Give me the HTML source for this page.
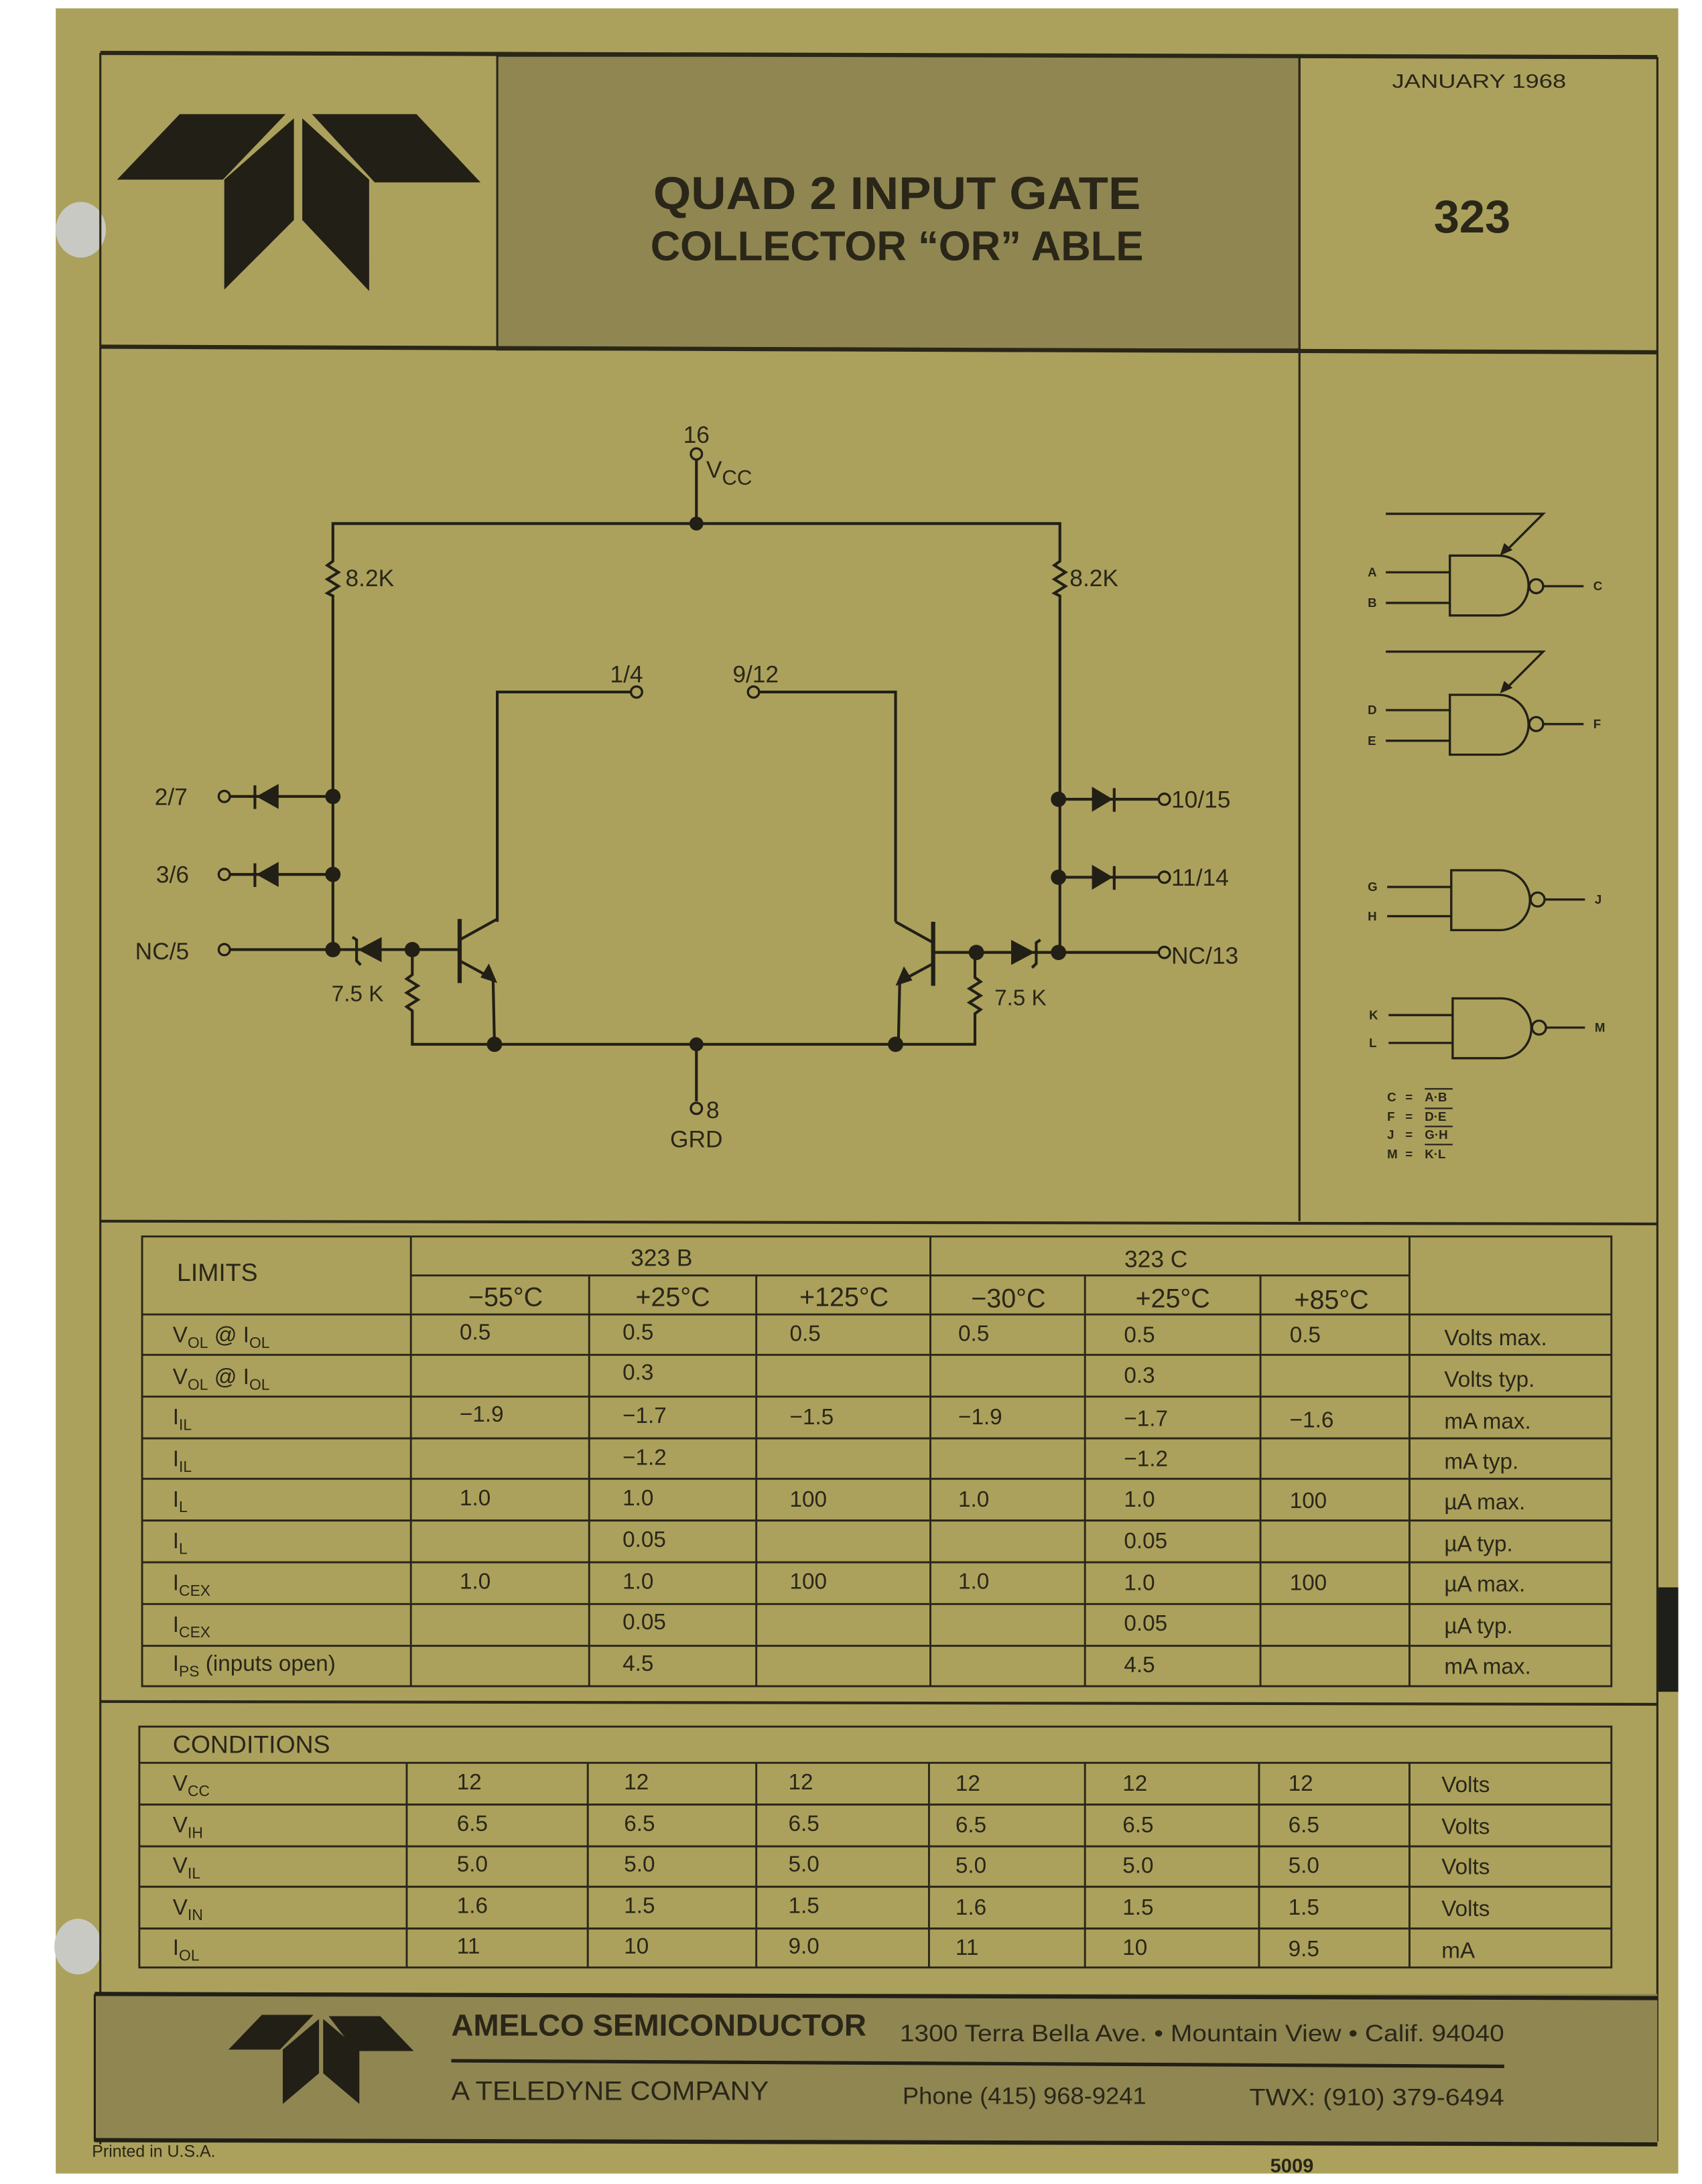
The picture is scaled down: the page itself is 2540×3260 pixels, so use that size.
<!DOCTYPE html>
<html><head><meta charset="utf-8"><style>
html,body{margin:0;padding:0;background:#fff;}
svg{display:block;}
text{font-family:"Liberation Sans",sans-serif;fill:#2a2618;}
</style></head><body>
<svg width="2540" height="3260" viewBox="0 0 1222 1568.5" xmlns="http://www.w3.org/2000/svg">
<rect x="0" y="0" width="1222" height="1569" fill="#ffffff"/>
<rect x="40" y="6" width="1165" height="1555" fill="#aba15c"/>
<!-- holes -->
<ellipse cx="58" cy="165" rx="18" ry="20" fill="#c9c9c4"/>
<ellipse cx="56" cy="1398" rx="17" ry="20" fill="#c9c9c4"/>
<rect x="1190" y="1140" width="15" height="75" fill="#1e1e1a"/>

<g stroke="#2a2618" fill="none">
<!-- header frame -->
<rect x="357" y="40" width="576" height="211" fill="#8f8652" stroke-width="1.5"/>
<line x1="72" y1="38" x2="1190" y2="41" stroke-width="3"/>
<line x1="72" y1="249" x2="1190" y2="253" stroke-width="3"/>
<line x1="72" y1="38" x2="72" y2="1540" stroke-width="1.5"/>
<line x1="1190" y1="41" x2="1190" y2="1538" stroke-width="1.5"/>
<line x1="933" y1="40" x2="933" y2="877" stroke-width="1.5"/>
<line x1="72" y1="877" x2="1190" y2="879" stroke-width="2"/>
<line x1="72" y1="1222" x2="1190" y2="1224" stroke-width="2"/>
</g>
<!-- logo -->
<g fill="#221f16">
<polygon points="84,129 129,82 205,82 160,129"/>
<polygon points="224,82 299,82 345,131 269,131"/>
<polygon points="211,85 211,158 161,208 161,129"/>
<polygon points="217,85 265,129 265,209 217,158"/>
</g>
<text x="644" y="150" font-size="33" font-weight="bold" text-anchor="middle" textLength="350" lengthAdjust="spacingAndGlyphs">QUAD 2 INPUT GATE</text>
<text x="644" y="187" font-size="30" font-weight="bold" text-anchor="middle" textLength="354" lengthAdjust="spacingAndGlyphs">COLLECTOR “OR” ABLE</text>
<text x="1062" y="63" font-size="14" text-anchor="middle" textLength="125" lengthAdjust="spacingAndGlyphs">JANUARY  1968</text>
<text x="1057" y="167" font-size="33" font-weight="bold" text-anchor="middle">323</text>

<!-- schematic -->
<g stroke="#221f16" stroke-width="2" fill="none">
<polyline points="239,682 239,430"/>
<polyline points="239,400 239,376 761,376 761,400"/>
<polyline points="761,430 761,682"/>
<polyline points="239,400 239,403 235,406 243,411 235,416 243,421 235,426 239,428 239,430"/>
<polyline points="761,400 761,403 757,406 765,411 757,416 765,421 757,426 761,428 761,430"/>
<line x1="500" y1="330" x2="500" y2="376"/>
<circle cx="500" cy="326" r="4" stroke-width="1.6"/>
<!-- 1/4 and 9/12 -->
<polyline points="453,497 357,497 357,662"/>
<circle cx="457" cy="497" r="4" stroke-width="1.6"/>
<polyline points="545,497 643,497 643,662"/>
<circle cx="541" cy="497" r="4" stroke-width="1.6"/>
<!-- left diodes -->
<line x1="165" y1="572" x2="239" y2="572"/><circle cx="161" cy="572" r="4" stroke-width="1.6"/>
<line x1="165" y1="628" x2="239" y2="628"/><circle cx="161" cy="628" r="4" stroke-width="1.6"/>
<line x1="165" y1="682" x2="329" y2="682"/><circle cx="161" cy="682" r="4" stroke-width="1.6"/>
<line x1="183" y1="564" x2="183" y2="581"/>
<line x1="183" y1="620" x2="183" y2="637"/>
<!-- right diodes -->
<line x1="761" y1="574" x2="832" y2="574"/><circle cx="836" cy="574" r="4" stroke-width="1.6"/>
<line x1="761" y1="630" x2="832" y2="630"/><circle cx="836" cy="630" r="4" stroke-width="1.6"/>
<line x1="671" y1="684" x2="832" y2="684"/><circle cx="836" cy="684" r="4" stroke-width="1.6"/>
<line x1="800" y1="566" x2="800" y2="583"/>
<line x1="800" y1="622" x2="800" y2="639"/>
<!-- zeners -->
<polyline points="253,673 256,675 256,690 259,693"/>
<polyline points="747,675 744,677 744,692 741,695"/>
<!-- left transistor -->
<line x1="330" y1="660" x2="330" y2="706" stroke-width="3"/>
<polyline points="330,675 357,660"/>
<polyline points="330,690 354,703 355,750"/>
<!-- right transistor -->
<line x1="670" y1="662" x2="670" y2="708" stroke-width="3"/>
<polyline points="670,677 643,662"/>
<polyline points="670,692 646,705 645,750"/>
<!-- 7.5K resistors -->
<polyline points="296,682 296,700 292,703 300,708 292,713 300,718 292,723 296,726 296,750 700,750 700,728 704,725 696,720 704,715 696,710 704,705 700,702 700,684"/>
<line x1="500" y1="750" x2="500" y2="791"/>
<circle cx="500" cy="796" r="4" stroke-width="1.6"/>
</g>
<g fill="#221f16">
<circle cx="500" cy="376" r="5"/>
<circle cx="239" cy="572" r="5.5"/><circle cx="239" cy="628" r="5.5"/><circle cx="239" cy="682" r="5.5"/>
<circle cx="296" cy="682" r="5.5"/>
<circle cx="760" cy="574" r="5.5"/><circle cx="760" cy="630" r="5.5"/><circle cx="760" cy="684" r="5.5"/>
<circle cx="701" cy="684" r="5.5"/>
<circle cx="355" cy="750" r="5.5"/><circle cx="500" cy="750" r="5"/><circle cx="643" cy="750" r="5.5"/>
<polygon points="184,572 200,563 200,581"/>
<polygon points="184,628 200,619 200,637"/>
<polygon points="799,574 784,565 784,583"/>
<polygon points="799,630 784,621 784,639"/>
<polygon points="257,682 274,673 274,691"/>
<polygon points="743,684 726,675 726,693"/>
<polygon points="357,706 345,702 351,692"/>
<polygon points="643,708 655,704 649,694"/>
</g>
<g font-size="17">
<text x="500" y="318" text-anchor="middle">16</text>
<text x="507" y="343">V<tspan font-size="15" dy="5">CC</tspan></text>
<text x="248" y="421">8.2K</text>
<text x="768" y="421">8.2K</text>
<text x="438" y="490">1/4</text>
<text x="526" y="490">9/12</text>
<text x="111" y="578">2/7</text>
<text x="112" y="634">3/6</text>
<text x="97" y="689">NC/5</text>
<text x="841" y="580">10/15</text>
<text x="841" y="636">11/14</text>
<text x="841" y="692">NC/13</text>
<text x="238" y="719" font-size="16">7.5 K</text>
<text x="714" y="722" font-size="16">7.5 K</text>
<text x="507" y="803">8</text>
<text x="500" y="824" text-anchor="middle">GRD</text>
</g>

<!-- gates -->
<g stroke="#221f16" stroke-width="1.6" fill="none">
<path d="M1041,399 H1076 A21.5,21.5 0 0 1 1076,442 H1041 Z"/>
<circle cx="1103" cy="421" r="5"/><line x1="1108" y1="421" x2="1137" y2="421"/>
<line x1="995" y1="411" x2="1041" y2="411"/><line x1="995" y1="433" x2="1041" y2="433"/>
<polyline points="995,369 1108,369 1081,396"/>
<path d="M1041,499 H1076 A21.5,21.5 0 0 1 1076,542 H1041 Z"/>
<circle cx="1103" cy="520" r="5"/><line x1="1108" y1="520" x2="1137" y2="520"/>
<line x1="995" y1="510" x2="1041" y2="510"/><line x1="995" y1="532" x2="1041" y2="532"/>
<polyline points="995,468 1108,468 1081,495"/>
<path d="M1042,625 H1077 A21.5,21.5 0 0 1 1077,668 H1042 Z"/>
<circle cx="1104" cy="646" r="5"/><line x1="1109" y1="646" x2="1138" y2="646"/>
<line x1="996" y1="637" x2="1042" y2="637"/><line x1="996" y1="658" x2="1042" y2="658"/>
<path d="M1043,717 H1078 A21.5,21.5 0 0 1 1078,760 H1043 Z"/>
<circle cx="1105" cy="738" r="5"/><line x1="1110" y1="738" x2="1138" y2="738"/>
<line x1="997" y1="729" x2="1043" y2="729"/><line x1="997" y1="749" x2="1043" y2="749"/>
<line x1="1023" y1="782" x2="1043" y2="782" stroke-width="1"/>
<line x1="1023" y1="796" x2="1043" y2="796" stroke-width="1"/>
<line x1="1023" y1="809" x2="1043" y2="809" stroke-width="1"/>
<line x1="1023" y1="822" x2="1043" y2="822" stroke-width="1"/>
</g>
<g fill="#221f16"><polygon points="1077,399 1080,390 1086,395"/><polygon points="1077,498 1080,489 1086,494"/></g>
<g font-size="9" font-weight="bold">
<text x="982" y="414">A</text><text x="982" y="436">B</text><text x="1144" y="424">C</text>
<text x="982" y="513">D</text><text x="982" y="535">E</text><text x="1144" y="523">F</text>
<text x="982" y="640">G</text><text x="982" y="661">H</text><text x="1145" y="649">J</text>
<text x="983" y="732">K</text><text x="983" y="752">L</text><text x="1145" y="741">M</text>
<text x="996" y="791">C</text><text x="1009" y="791">=</text><text x="1023" y="791">A·B</text>
<text x="996" y="805">F</text><text x="1009" y="805">=</text><text x="1023" y="805">D·E</text>
<text x="996" y="818">J</text><text x="1009" y="818">=</text><text x="1023" y="818">G·H</text>
<text x="996" y="832">M</text><text x="1009" y="832">=</text><text x="1023" y="832">K·L</text>
</g>

<!-- LIMITS table -->
<g stroke="#2a2618" stroke-width="1.4" fill="none">
<rect x="102" y="888" width="1055" height="323"/>
<line x1="295" y1="888" x2="295" y2="1211"/>
<line x1="423" y1="916" x2="423" y2="1211"/>
<line x1="543" y1="916" x2="543" y2="1211"/>
<line x1="668" y1="888" x2="668" y2="1211"/>
<line x1="779" y1="916" x2="779" y2="1211"/>
<line x1="905" y1="916" x2="905" y2="1211"/>
<line x1="1012" y1="888" x2="1012" y2="1211"/>
<line x1="295" y1="916" x2="1012" y2="916"/>
<line x1="102" y1="944" x2="1157" y2="944"/>
<line x1="102" y1="973" x2="1157" y2="973"/>
<line x1="102" y1="1003" x2="1157" y2="1003"/>
<line x1="102" y1="1033" x2="1157" y2="1033"/>
<line x1="102" y1="1062" x2="1157" y2="1062"/>
<line x1="102" y1="1092" x2="1157" y2="1092"/>
<line x1="102" y1="1122" x2="1157" y2="1122"/>
<line x1="102" y1="1152" x2="1157" y2="1152"/>
<line x1="102" y1="1182" x2="1157" y2="1182"/>
</g>
<g font-size="16">
<text x="127" y="920" font-size="18">LIMITS</text>
<text x="475" y="909" font-size="17" text-anchor="middle">323 B</text>
<text x="830" y="910" font-size="17" text-anchor="middle">323 C</text>
<g font-size="19" text-anchor="middle">
<text x="363" y="938">−55°C</text><text x="483" y="938">+25°C</text><text x="606" y="938">+125°C</text>
<text x="724" y="939">−30°C</text><text x="842" y="939">+25°C</text><text x="956" y="940">+85°C</text>
</g>
<text x="124" y="964">V<tspan font-size="11" dy="4">OL</tspan><tspan dy="-4"> @ I</tspan><tspan font-size="11" dy="4">OL</tspan></text>
<text x="124" y="994">V<tspan font-size="11" dy="4">OL</tspan><tspan dy="-4"> @ I</tspan><tspan font-size="11" dy="4">OL</tspan></text>
<text x="124" y="1023">I<tspan font-size="11" dy="4">IL</tspan></text>
<text x="124" y="1053">I<tspan font-size="11" dy="4">IL</tspan></text>
<text x="124" y="1082">I<tspan font-size="11" dy="4">L</tspan></text>
<text x="124" y="1112">I<tspan font-size="11" dy="4">L</tspan></text>
<text x="124" y="1142">I<tspan font-size="11" dy="4">CEX</tspan></text>
<text x="124" y="1172">I<tspan font-size="11" dy="4">CEX</tspan></text>
<text x="124" y="1200">I<tspan font-size="11" dy="4">PS</tspan><tspan dy="-4"> (inputs  open)</tspan></text>
<!-- values -->
<text x="330" y="962">0.5</text><text x="447" y="962">0.5</text><text x="567" y="963">0.5</text><text x="688" y="963">0.5</text><text x="807" y="964">0.5</text><text x="926" y="964">0.5</text><text x="1037" y="966">Volts max.</text>
<text x="447" y="991">0.3</text><text x="807" y="993">0.3</text><text x="1037" y="996">Volts typ.</text>
<text x="330" y="1021">−1.9</text><text x="447" y="1022">−1.7</text><text x="567" y="1023">−1.5</text><text x="688" y="1023">−1.9</text><text x="807" y="1024">−1.7</text><text x="926" y="1025">−1.6</text><text x="1037" y="1026">mA max.</text>
<text x="447" y="1052">−1.2</text><text x="807" y="1053">−1.2</text><text x="1037" y="1055">mA typ.</text>
<text x="330" y="1081">1.0</text><text x="447" y="1081">1.0</text><text x="567" y="1082">100</text><text x="688" y="1082">1.0</text><text x="807" y="1082">1.0</text><text x="926" y="1083">100</text><text x="1037" y="1084">µA max.</text>
<text x="447" y="1111">0.05</text><text x="807" y="1112">0.05</text><text x="1037" y="1114">µA typ.</text>
<text x="330" y="1141">1.0</text><text x="447" y="1141">1.0</text><text x="567" y="1141">100</text><text x="688" y="1141">1.0</text><text x="807" y="1142">1.0</text><text x="926" y="1142">100</text><text x="1037" y="1143">µA max.</text>
<text x="447" y="1170">0.05</text><text x="807" y="1171">0.05</text><text x="1037" y="1173">µA typ.</text>
<text x="447" y="1200">4.5</text><text x="807" y="1201">4.5</text><text x="1037" y="1202">mA max.</text>
</g>

<!-- CONDITIONS table -->
<g stroke="#2a2618" stroke-width="1.4" fill="none">
<rect x="100" y="1240" width="1057" height="173"/>
<line x1="100" y1="1266" x2="1157" y2="1266"/>
<line x1="100" y1="1296" x2="1157" y2="1296"/>
<line x1="100" y1="1326" x2="1157" y2="1326"/>
<line x1="100" y1="1355" x2="1157" y2="1355"/>
<line x1="100" y1="1385" x2="1157" y2="1385"/>
<line x1="292" y1="1266" x2="292" y2="1413"/>
<line x1="422" y1="1266" x2="422" y2="1413"/>
<line x1="543" y1="1266" x2="543" y2="1413"/>
<line x1="667" y1="1266" x2="667" y2="1413"/>
<line x1="779" y1="1266" x2="779" y2="1413"/>
<line x1="904" y1="1266" x2="904" y2="1413"/>
<line x1="1012" y1="1266" x2="1012" y2="1413"/>
</g>
<g font-size="16">
<text x="124" y="1259" font-size="18">CONDITIONS</text>
<text x="124" y="1286">V<tspan font-size="11" dy="4">CC</tspan></text>
<text x="124" y="1316">V<tspan font-size="11" dy="4">IH</tspan></text>
<text x="124" y="1345">V<tspan font-size="11" dy="4">IL</tspan></text>
<text x="124" y="1375">V<tspan font-size="11" dy="4">IN</tspan></text>
<text x="124" y="1404">I<tspan font-size="11" dy="4">OL</tspan></text>
<text x="328" y="1285">12</text><text x="448" y="1285">12</text><text x="566" y="1285">12</text><text x="686" y="1286">12</text><text x="806" y="1286">12</text><text x="925" y="1286">12</text><text x="1035" y="1287">Volts</text>
<text x="328" y="1315">6.5</text><text x="448" y="1315">6.5</text><text x="566" y="1315">6.5</text><text x="686" y="1316">6.5</text><text x="806" y="1316">6.5</text><text x="925" y="1316">6.5</text><text x="1035" y="1317">Volts</text>
<text x="328" y="1344">5.0</text><text x="448" y="1344">5.0</text><text x="566" y="1344">5.0</text><text x="686" y="1345">5.0</text><text x="806" y="1345">5.0</text><text x="925" y="1345">5.0</text><text x="1035" y="1346">Volts</text>
<text x="328" y="1374">1.6</text><text x="448" y="1374">1.5</text><text x="566" y="1374">1.5</text><text x="686" y="1375">1.6</text><text x="806" y="1375">1.5</text><text x="925" y="1375">1.5</text><text x="1035" y="1376">Volts</text>
<text x="328" y="1403">11</text><text x="448" y="1403">10</text><text x="566" y="1403">9.0</text><text x="686" y="1404">11</text><text x="806" y="1404">10</text><text x="925" y="1405">9.5</text><text x="1035" y="1406">mA</text>
</g>

<!-- footer -->
<rect x="68" y="1432" width="1122" height="106" fill="#8f8652"/>
<line x1="68" y1="1432" x2="1190" y2="1435" stroke="#221f16" stroke-width="3"/>
<line x1="68" y1="1537" x2="1190" y2="1540" stroke="#221f16" stroke-width="3"/>
<line x1="68" y1="1432" x2="68" y2="1538" stroke="#221f16" stroke-width="1.5"/>
<g fill="#221f16">
<polygon points="164,1472 188,1447 225,1447 201,1472"/>
<polygon points="236,1448 273,1448 297,1473 255,1473"/>
<polygon points="229,1450 229,1489 203,1511 203,1472"/>
<polygon points="232,1450 258,1472 258,1511 232,1489"/>
</g>
<text x="324" y="1462" font-size="22" font-weight="bold" textLength="298" lengthAdjust="spacingAndGlyphs">AMELCO SEMICONDUCTOR</text>
<text x="646" y="1466" font-size="17" textLength="434" lengthAdjust="spacingAndGlyphs">1300 Terra Bella Ave. • Mountain View • Calif. 94040</text>
<line x1="324" y1="1480" x2="1080" y2="1484" stroke="#221f16" stroke-width="2.5"/>
<text x="324" y="1508" font-size="19" textLength="228" lengthAdjust="spacingAndGlyphs">A TELEDYNE COMPANY</text>
<text x="648" y="1511" font-size="17" textLength="175" lengthAdjust="spacingAndGlyphs">Phone (415) 968-9241</text>
<text x="897" y="1512" font-size="17" textLength="183" lengthAdjust="spacingAndGlyphs">TWX: (910) 379-6494</text>
<text x="66" y="1549" font-size="12">Printed  in  U.S.A.</text>
<text x="912" y="1560" font-size="14" font-weight="bold">5009</text>
</svg>
</body></html>
